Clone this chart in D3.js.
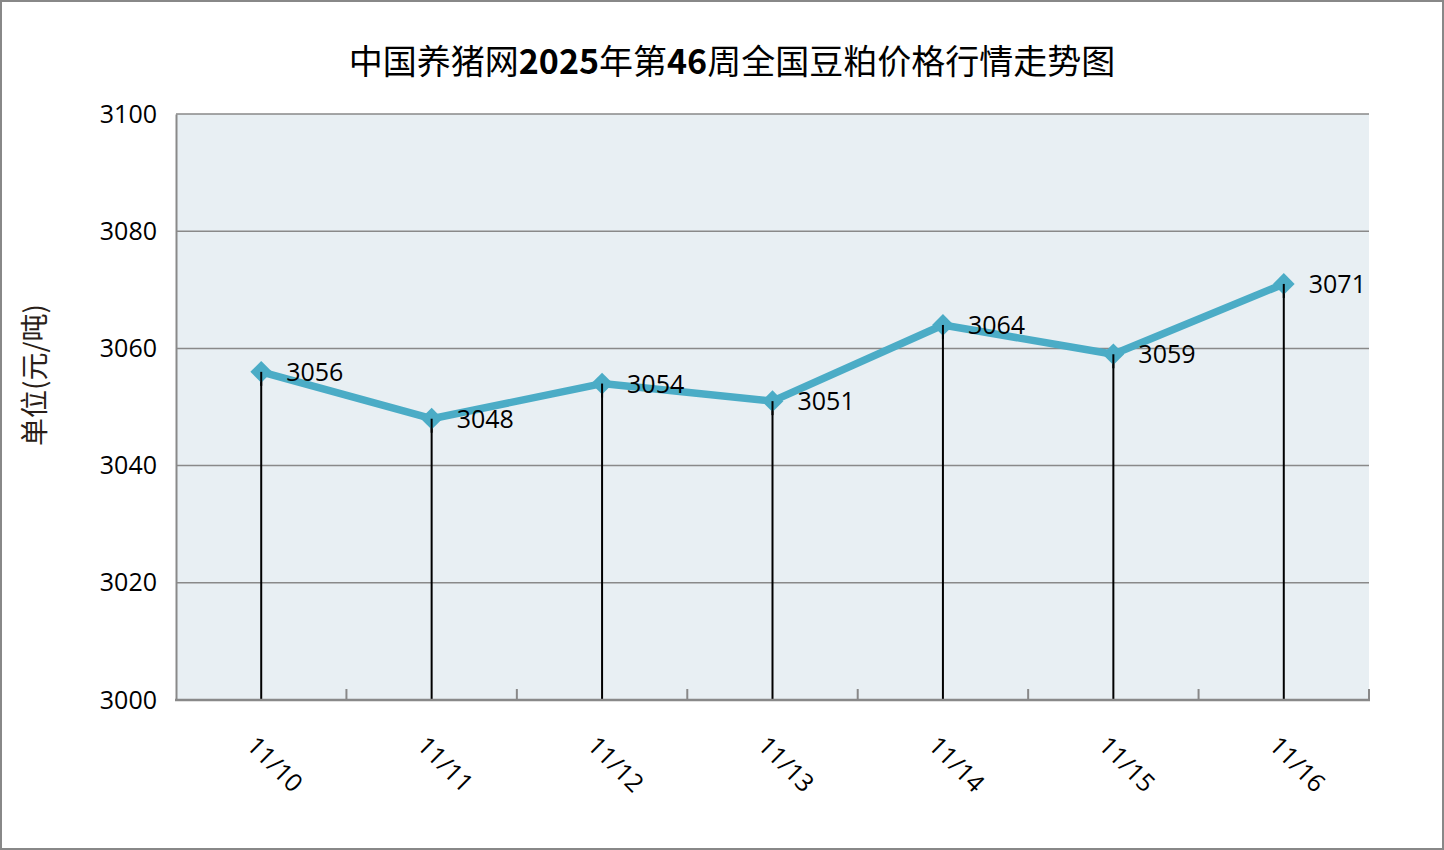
<!DOCTYPE html>
<html>
<head>
<meta charset="utf-8">
<script src="https://cdn.jsdelivr.net/npm/d3@7"></script>
<style>
  html, body { margin: 0; padding: 0; background: #fff; }
  svg { display: block; }
</style>
</head>
<body>
<svg id="chart" width="1444" height="850"></svg>
<script>
const categories = ["11/10", "11/11", "11/12", "11/13", "11/14", "11/15", "11/16"];
const values = [3056, 3048, 3054, 3051, 3064, 3059, 3071];
const yTicks = [3000, 3020, 3040, 3060, 3080, 3100];
const titleParts = [
  { t: "中国养猪网", b: false },
  { t: "2025", b: true },
  { t: "年第", b: false },
  { t: "46", b: true },
  { t: "周全国豆粕价格行情走势图", b: false }
];
const yLabel = "单位(元/吨)";

const W = 1444, H = 850;
const plot = { left: 176, right: 1369, top: 114, bottom: 700 };
const numFont = "'Open Sans', sans-serif";
const cjkFont = "'Noto Sans CJK SC', sans-serif";
const lineColor = "#4BACC6";

const svg = d3.select("#chart");

// outer border
svg.append("rect").attr("x", 1).attr("y", 1).attr("width", W - 2).attr("height", H - 2)
  .attr("fill", "#fff").attr("stroke", "#888").attr("stroke-width", 2);

const x = d3.scaleBand().domain(categories).range([plot.left, plot.right]).padding(0);
const y = d3.scaleLinear().domain([3000, 3100]).range([plot.bottom, plot.top]);

// plot background
svg.append("rect").attr("x", plot.left).attr("y", plot.top)
  .attr("width", plot.right - plot.left).attr("height", plot.bottom - plot.top)
  .attr("fill", "#E8EFF3");

// gridlines
svg.append("g").selectAll("line").data(yTicks.filter(d => d !== 3000)).join("line")
  .attr("x1", plot.left).attr("x2", plot.right)
  .attr("y1", d => y(d)).attr("y2", d => y(d))
  .attr("stroke", "#898989").attr("stroke-width", 1.5);

// y axis
const yAxis = d3.axisLeft(y).tickValues(yTicks).tickSize(0).tickPadding(19).tickFormat(d3.format("d"));
const gy = svg.append("g").attr("transform", `translate(${plot.left},0)`).call(yAxis);
gy.select(".domain").attr("stroke", "#898989").attr("stroke-width", 2);
gy.selectAll("text").attr("font-family", numFont).attr("font-size", 25).attr("fill", "#000");

// x axis ticks (category boundaries, inward)
const boundaries = d3.range(categories.length + 1).map(i => plot.left + i * x.bandwidth());
svg.append("g").selectAll("line").data(boundaries.slice(1)).join("line")
  .attr("x1", d => d).attr("x2", d => d)
  .attr("y1", plot.bottom).attr("y2", plot.bottom - 11)
  .attr("stroke", "#898989").attr("stroke-width", 2);

// drop lines
svg.append("g").selectAll("line").data(values).join("line")
  .attr("x1", (d, i) => x(categories[i]) + x.bandwidth() / 2)
  .attr("x2", (d, i) => x(categories[i]) + x.bandwidth() / 2)
  .attr("y1", d => y(d)).attr("y2", plot.bottom)
  .attr("stroke", "#000").attr("stroke-width", 2);

svg.append("line").attr("x1", plot.left - 1).attr("x2", plot.right + 1)
  .attr("y1", plot.bottom).attr("y2", plot.bottom)
  .attr("stroke", "#898989").attr("stroke-width", 2.5);

// x labels
svg.append("g").selectAll("text").data(categories).join("text")
  .attr("transform", d => `translate(${x(d) + x.bandwidth() / 2 - 16},747) rotate(45)`)
  .attr("text-anchor", "start")
  .attr("font-family", numFont).attr("font-size", 25).attr("fill", "#000")
  .text(d => d);

// line
const line = d3.line()
  .x((d, i) => x(categories[i]) + x.bandwidth() / 2)
  .y(d => y(d));
svg.append("path").datum(values).attr("d", line)
  .attr("fill", "none").attr("stroke", lineColor).attr("stroke-width", 7.5)
  .attr("stroke-linejoin", "round");

// markers
svg.append("g").selectAll("path").data(values).join("path")
  .attr("d", d3.symbol().type(d3.symbolDiamond2).size(300))
  .attr("transform", (d, i) => `translate(${x(categories[i]) + x.bandwidth() / 2},${y(d)})`)
  .attr("fill", lineColor);

// stems visible through marker centre
svg.append("g").selectAll("line").data(values).join("line")
  .attr("x1", (d, i) => x(categories[i]) + x.bandwidth() / 2)
  .attr("x2", (d, i) => x(categories[i]) + x.bandwidth() / 2)
  .attr("y1", d => y(d)).attr("y2", d => y(d) + 14)
  .attr("stroke", "#000").attr("stroke-width", 2);

// data labels
svg.append("g").selectAll("text").data(values).join("text")
  .attr("x", (d, i) => x(categories[i]) + x.bandwidth() / 2 + 25)
  .attr("y", d => y(d))
  .attr("dy", "0.36em")
  .attr("font-family", numFont).attr("font-size", 25).attr("fill", "#000")
  .text(d => d);

// title
const title = svg.append("text").attr("x", 732).attr("y", 74)
  .attr("text-anchor", "middle").attr("font-family", cjkFont)
  .attr("font-size", 34).attr("fill", "#000");
title.selectAll("tspan").data(titleParts).join("tspan")
  .attr("font-weight", d => d.b ? "bold" : "normal")
  .text(d => d.t);

// y label
svg.append("text")
  .attr("transform", "translate(45,375) rotate(-90)")
  .attr("text-anchor", "middle").attr("font-family", cjkFont)
  .attr("font-size", 28).attr("fill", "#2a1e18")
  .text(yLabel);
</script>
</body>
</html>
